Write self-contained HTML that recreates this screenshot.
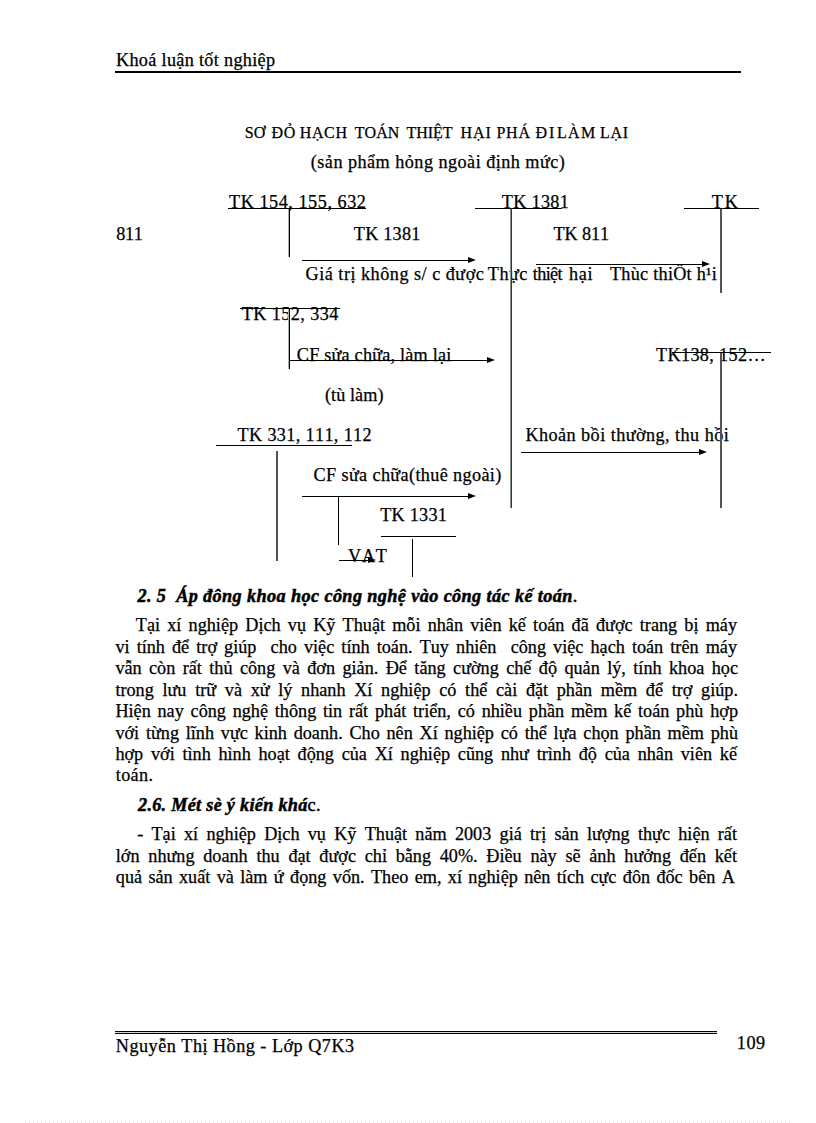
<!DOCTYPE html>
<html><head><meta charset="utf-8"><style>
html,body{margin:0;padding:0;background:#fff;}
body{width:816px;height:1123px;position:relative;overflow:hidden;font-family:"Liberation Serif",serif;color:#000;font-kerning:none;}
.t{position:absolute;white-space:pre;line-height:1;-webkit-text-stroke:0.25px #000;}
.j{position:absolute;white-space:normal;line-height:1;text-align:justify;text-align-last:justify;font-size:18.2px;-webkit-text-stroke:0.25px #000;}
.h{position:absolute;background:#000;height:1px;}
.v{position:absolute;background:#000;width:1px;}
.ar{position:absolute;width:0;height:0;border-top:3.5px solid transparent;border-bottom:3.5px solid transparent;border-left:8px solid #000;}
</style></head><body>
<div class="t" id="t0" style="left:116.00px;top:51px;font-size:18.2px;letter-spacing:0.316px;">Khoá luận tốt nghiệp</div>
<div class="t" id="t1" style="left:244.80px;top:125px;font-size:16px;">SƠ</div>
<div class="t" id="t2" style="left:271.40px;top:125px;font-size:16px;letter-spacing:0.700px;">ĐỎ</div>
<div class="t" id="t3" style="left:299.80px;top:125px;font-size:16px;letter-spacing:0.600px;">HẠCH</div>
<div class="t" id="t4" style="left:354.80px;top:125px;font-size:16px;letter-spacing:0.033px;">TOÁN</div>
<div class="t" id="t5" style="left:406.60px;top:125px;font-size:16px;letter-spacing:-0.050px;">THIỆT</div>
<div class="t" id="t6" style="left:460.40px;top:125px;font-size:16px;letter-spacing:1.050px;">HẠI</div>
<div class="t" id="t7" style="left:496.40px;top:125px;font-size:16px;letter-spacing:0.800px;">PHÁ</div>
<div class="t" id="t8" style="left:535.40px;top:125px;font-size:16px;letter-spacing:2.100px;">ĐI</div>
<div class="t" id="t9" style="left:557.00px;top:125px;font-size:16px;letter-spacing:1.300px;">LÀM</div>
<div class="t" id="t10" style="left:600.00px;top:125px;font-size:16px;letter-spacing:0.700px;">LẠI</div>
<div class="t" id="t11" style="left:310.80px;top:153px;font-size:18.2px;letter-spacing:0.462px;">(sản phẩm hỏng ngoài định mức)</div>
<div class="t" id="t12" style="left:229.00px;top:193px;font-size:18.2px;letter-spacing:0.540px;">TK 154, 155, 632</div>
<div class="t" id="t13" style="left:501.80px;top:193px;font-size:18.2px;letter-spacing:0.300px;">TK 1381</div>
<div class="t" id="t14" style="left:711.80px;top:193px;font-size:18.2px;letter-spacing:1.900px;">TK</div>
<div class="t" id="t15" style="left:116.20px;top:225px;font-size:18.2px;letter-spacing:-0.350px;">811</div>
<div class="t" id="t16" style="left:353.80px;top:225px;font-size:18.2px;letter-spacing:0.233px;">TK 1381</div>
<div class="t" id="t17" style="left:553.40px;top:225px;font-size:18.2px;letter-spacing:-0.060px;">TK 811</div>
<div class="t" id="t18" style="left:305.60px;top:265px;font-size:18.2px;letter-spacing:0.491px;">Giá trị không s/ c được</div>
<div class="t" id="t19" style="left:487.80px;top:265px;font-size:18.2px;letter-spacing:0.500px;">Thực</div>
<div class="t" id="t20" style="left:532.80px;top:265px;font-size:18.2px;letter-spacing:-0.650px;">thiệt</div>
<div class="t" id="t21" style="left:569.00px;top:265px;font-size:18.2px;letter-spacing:0.650px;">hại</div>
<div class="t" id="t22" style="left:610.00px;top:265px;font-size:18.2px;letter-spacing:0.262px;">Thùc thiÖt h¹i</div>
<div class="t" id="t23" style="left:241.80px;top:305px;font-size:18.2px;letter-spacing:0.410px;">TK 152, 334</div>
<div class="t" id="t24" style="left:296.80px;top:346px;font-size:18.2px;letter-spacing:0.211px;">CF sửa chữa, làm lại</div>
<div class="t" id="t25" style="left:656.00px;top:346px;font-size:18.2px;letter-spacing:0.350px;">TK138, 152…</div>
<div class="t" id="t26" style="left:325.00px;top:386px;font-size:18.2px;letter-spacing:0.057px;">(tù làm)</div>
<div class="t" id="t27" style="left:237.60px;top:426px;font-size:18.2px;letter-spacing:0.347px;">TK 331, 111, 112</div>
<div class="t" id="t28" style="left:525.40px;top:426px;font-size:18.2px;letter-spacing:0.442px;">Khoản bồi thường, thu hồi</div>
<div class="t" id="t29" style="left:313.60px;top:466px;font-size:18.2px;letter-spacing:0.359px;">CF sửa chữa(thuê ngoài)</div>
<div class="t" id="t30" style="left:380.20px;top:506px;font-size:18.2px;letter-spacing:0.250px;">TK 1331</div>
<div class="t" id="t31" style="left:348.00px;top:547px;font-size:18.2px;letter-spacing:0.750px;">VAT</div>
<div class="t" id="t32" style="left:137.40px;top:587px;font-size:18.2px;font-weight:700;font-style:italic;letter-spacing:0.398px;-webkit-text-stroke:0.5px #000;">2. 5&nbsp; Áp đông khoa học công nghệ vào công tác kế toán<span style='font-weight:400;font-style:normal'>.</span></div>
<div class="t" id="t33" style="left:115.80px;top:766px;font-size:18.2px;letter-spacing:0.325px;">toán.</div>
<div class="t" id="t34" style="left:138.00px;top:796px;font-size:18.2px;font-weight:700;font-style:italic;letter-spacing:0.291px;-webkit-text-stroke:0.5px #000;">2.6. Mét sè ý kiến khá<span style='font-weight:400;font-style:normal'>c.</span></div>
<div class="t" id="t35" style="left:115.80px;top:1037px;font-size:18.2px;letter-spacing:0.480px;">Nguyễn Thị Hồng - Lớp Q7K3</div>
<div class="t" id="t36" style="left:736.80px;top:1034px;font-size:18.2px;letter-spacing:0.500px;">109</div>
<div class="j" id="j0" style="left:135.80px;top:616px;width:601.20px">Tại xí nghiệp Dịch vụ Kỹ Thuật mỗi nhân viên kế toán đã được trang bị máy</div>
<div class="j" id="j1" style="left:115.40px;top:638px;width:621.60px">vi tính để trợ giúp&nbsp; cho việc tính toán. Tuy nhiên&nbsp; công việc hạch toán trên máy</div>
<div class="j" id="j2" style="left:115.40px;top:659px;width:622.60px">vẫn còn rất thủ công và đơn giản. Để tăng cường chế độ quản lý, tính khoa học</div>
<div class="j" id="j3" style="left:115.40px;top:681px;width:622.60px">trong lưu trữ và xử lý nhanh Xí nghiệp có thể cài đặt phần mềm để trợ giúp.</div>
<div class="j" id="j4" style="left:115.40px;top:702px;width:622.60px">Hiện nay công nghệ thông tin rất phát triển, có nhiều phần mềm kế toán phù hợp</div>
<div class="j" id="j5" style="left:115.40px;top:724px;width:622.60px">với từng lĩnh vực kinh doanh. Cho nên Xí nghiệp có thể lựa chọn phần mềm phù</div>
<div class="j" id="j6" style="left:115.40px;top:745px;width:621.60px">hợp với tình hình hoạt động của Xí nghiệp cũng như trình độ của nhân viên kế</div>
<div class="j" id="j7" style="left:137.20px;top:825px;width:599.80px">- Tại xí nghiệp Dịch vụ Kỹ Thuật năm 2003 giá trị sản lượng thực hiện rất</div>
<div class="j" id="j8" style="left:115.80px;top:847px;width:621.20px">lớn nhưng doanh thu đạt được chỉ bằng 40%. Điều này sẽ ảnh hưởng đến kết</div>
<div class="j" id="j9" style="left:115.80px;top:868px;width:619.00px">quả sản xuất và làm ứ đọng vốn. Theo em, xí nghiệp nên tích cực đôn đốc bên A</div>
<div class="h" style="left:115px;top:71px;width:626px;height:2px"></div>
<div class="h" style="left:228px;top:208px;width:138px;height:1px"></div>
<div class="h" style="left:475px;top:208px;width:87px;height:1px"></div>
<div class="h" style="left:684px;top:208px;width:75px;height:1px"></div>
<div class="h" style="left:240px;top:308px;width:100px;height:1px"></div>
<div class="h" style="left:672px;top:352px;width:99px;height:1px"></div>
<div class="h" style="left:216px;top:445px;width:136px;height:1px"></div>
<div class="h" style="left:381px;top:536px;width:75px;height:1px"></div>
<div class="h" style="left:115px;top:1031px;width:602px;height:1px"></div>
<div class="h" style="left:115px;top:1033px;width:602px;height:1px"></div>
<div class="h" style="left:115px;top:1032px;width:602px;height:1px;background:#d4d8d4"></div>
<div class="h" style="left:25px;top:1122px;width:766px;height:1px;background:repeating-linear-gradient(90deg,#e4e4e4 0 1px,#fff 1px 4px)"></div>
<div class="v" style="left:288px;top:209px;height:48px;width:1px;background:#aab0aa"></div>
<div class="v" style="left:289px;top:208px;height:49px;width:1px"></div>
<div class="v" style="left:510px;top:209px;height:299px;width:1px;background:#8a958a"></div>
<div class="v" style="left:511px;top:208px;height:300px;width:1px;background:#333"></div>
<div class="v" style="left:720px;top:209px;height:84px;width:2px;background:#5a505a"></div>
<div class="v" style="left:288px;top:309px;height:60px;width:1px;background:#aab0aa"></div>
<div class="v" style="left:289px;top:308px;height:61px;width:1px"></div>
<div class="v" style="left:720px;top:353px;height:155px;width:2px;background:#5a505a"></div>
<div class="v" style="left:276px;top:451px;height:110px;width:2px;background:#5a505a"></div>
<div class="v" style="left:338px;top:497px;height:48px;width:1px"></div>
<div class="v" style="left:412px;top:539px;height:38px;width:1px"></div>
<div class="h" style="left:302px;top:260px;width:166px;height:1px"></div>
<div class="ar" style="left:468px;top:257px"></div>
<div class="h" style="left:536px;top:264px;width:166px;height:1px"></div>
<div class="ar" style="left:702px;top:261px"></div>
<div class="h" style="left:289px;top:360px;width:198px;height:1px"></div>
<div class="ar" style="left:487px;top:357px"></div>
<div class="h" style="left:521px;top:452px;width:178px;height:1px"></div>
<div class="ar" style="left:699px;top:449px"></div>
<div class="h" style="left:302px;top:496px;width:166px;height:1px"></div>
<div class="ar" style="left:468px;top:493px"></div>
<div class="h" style="left:339px;top:560px;width:29px;height:1px"></div>
<div class="ar" style="left:368px;top:557px"></div>
</body></html>
